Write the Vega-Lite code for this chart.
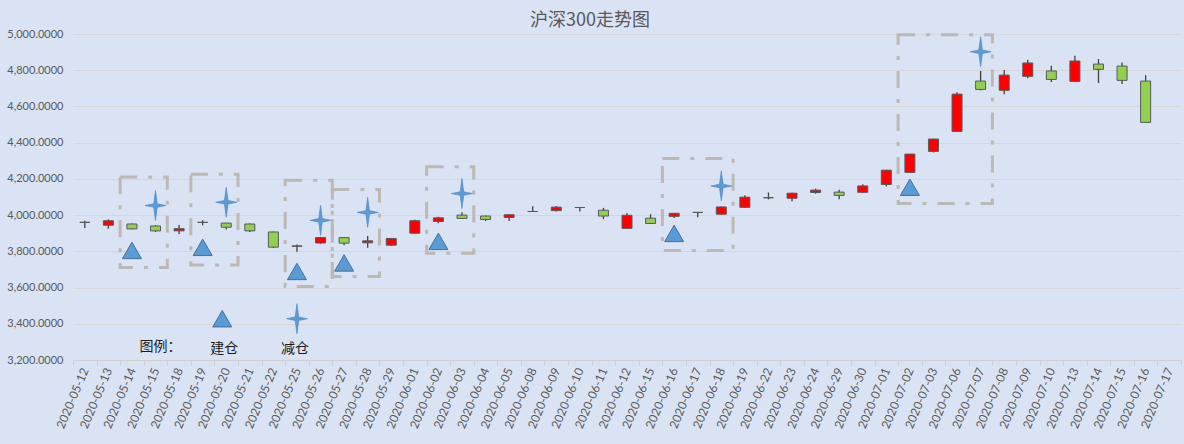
{
  "$schema": "https://vega.github.io/schema/vega-lite/v6.json",
  "background": "#DAE3F3",
  "autosize": {"type": "none"},
  "padding": {"left": 73, "top": 34, "right": 3, "bottom": 84},
  "width": 1108,
  "height": 326,
  "title": {
    "text": "沪深300走势图",
    "font": "Noto Sans CJK SC",
    "fontSize": 18,
    "fontWeight": "normal",
    "color": "#595959",
    "offset": 6,
    "dx": -37,
    "dy": 8
  },
  "datasets": {
    "candles": [
      {"date": "2020-05-12", "open": 3960, "high": 3969, "low": 3929, "close": 3960},
      {"date": "2020-05-13", "open": 3944, "high": 3976, "low": 3925, "close": 3969},
      {"date": "2020-05-14", "open": 3951, "high": 3953, "low": 3922, "close": 3924},
      {"date": "2020-05-15", "open": 3940, "high": 3945, "low": 3907, "close": 3913},
      {"date": "2020-05-18", "open": 3913, "high": 3945, "low": 3896, "close": 3925},
      {"date": "2020-05-19", "open": 3960, "high": 3971, "low": 3944, "close": 3960},
      {"date": "2020-05-20", "open": 3956, "high": 3958, "low": 3920, "close": 3933},
      {"date": "2020-05-21", "open": 3951, "high": 3953, "low": 3907, "close": 3913},
      {"date": "2020-05-22", "open": 3907, "high": 3909, "low": 3818, "close": 3823},
      {"date": "2020-05-25", "open": 3828, "high": 3838, "low": 3798, "close": 3830},
      {"date": "2020-05-26", "open": 3846, "high": 3880, "low": 3842, "close": 3876},
      {"date": "2020-05-27", "open": 3876, "high": 3878, "low": 3834, "close": 3845},
      {"date": "2020-05-28", "open": 3847, "high": 3885, "low": 3820, "close": 3858},
      {"date": "2020-05-29", "open": 3834, "high": 3873, "low": 3829, "close": 3871},
      {"date": "2020-06-01", "open": 3900, "high": 3975, "low": 3898, "close": 3969},
      {"date": "2020-06-02", "open": 3965, "high": 3991, "low": 3955, "close": 3985},
      {"date": "2020-06-03", "open": 4000, "high": 4016, "low": 3980, "close": 3982},
      {"date": "2020-06-04", "open": 3995, "high": 3997, "low": 3967, "close": 3976},
      {"date": "2020-06-05", "open": 3987, "high": 4003, "low": 3967, "close": 4002},
      {"date": "2020-06-08", "open": 4020, "high": 4049, "low": 4017, "close": 4020},
      {"date": "2020-06-09", "open": 4025, "high": 4050, "low": 4020, "close": 4044},
      {"date": "2020-06-10", "open": 4042, "high": 4044, "low": 4020, "close": 4042},
      {"date": "2020-06-11", "open": 4027, "high": 4040, "low": 3978, "close": 3995},
      {"date": "2020-06-12", "open": 3927, "high": 4011, "low": 3923, "close": 3999},
      {"date": "2020-06-15", "open": 3983, "high": 4005, "low": 3953, "close": 3954},
      {"date": "2020-06-16", "open": 3993, "high": 4011, "low": 3984, "close": 4010},
      {"date": "2020-06-17", "open": 4015, "high": 4016, "low": 3988, "close": 4015},
      {"date": "2020-06-18", "open": 4005, "high": 4047, "low": 4003, "close": 4045},
      {"date": "2020-06-19", "open": 4043, "high": 4110, "low": 4041, "close": 4099},
      {"date": "2020-06-22", "open": 4096, "high": 4125, "low": 4087, "close": 4096},
      {"date": "2020-06-23", "open": 4093, "high": 4123, "low": 4076, "close": 4121},
      {"date": "2020-06-24", "open": 4125, "high": 4146, "low": 4118, "close": 4138},
      {"date": "2020-06-29", "open": 4127, "high": 4140, "low": 4087, "close": 4109},
      {"date": "2020-06-30", "open": 4126, "high": 4171, "low": 4124, "close": 4161},
      {"date": "2020-07-01", "open": 4169, "high": 4250, "low": 4158, "close": 4248},
      {"date": "2020-07-02", "open": 4236, "high": 4338, "low": 4234, "close": 4337},
      {"date": "2020-07-03", "open": 4352, "high": 4421, "low": 4346, "close": 4420},
      {"date": "2020-07-06", "open": 4462, "high": 4679, "low": 4460, "close": 4668},
      {"date": "2020-07-07", "open": 4740, "high": 4796, "low": 4689, "close": 4694},
      {"date": "2020-07-08", "open": 4689, "high": 4801, "low": 4668, "close": 4773},
      {"date": "2020-07-09", "open": 4766, "high": 4858, "low": 4755, "close": 4840},
      {"date": "2020-07-10", "open": 4796, "high": 4825, "low": 4735, "close": 4749},
      {"date": "2020-07-13", "open": 4738, "high": 4880, "low": 4736, "close": 4851},
      {"date": "2020-07-14", "open": 4834, "high": 4862, "low": 4729, "close": 4805},
      {"date": "2020-07-15", "open": 4823, "high": 4842, "low": 4724, "close": 4744},
      {"date": "2020-07-16", "open": 4740, "high": 4773, "low": 4510, "close": 4512}
    ],
    "boxes": [
      {"start": "2020-05-14", "end": "2020-05-15", "top": 4211, "bottom": 3711},
      {"start": "2020-05-19", "end": "2020-05-20", "top": 4226, "bottom": 3724},
      {"start": "2020-05-25", "end": "2020-05-26", "top": 4193, "bottom": 3606},
      {"start": "2020-05-27", "end": "2020-05-28", "top": 4141, "bottom": 3661},
      {"start": "2020-06-02", "end": "2020-06-03", "top": 4267, "bottom": 3790},
      {"start": "2020-06-16", "end": "2020-06-18", "top": 4313, "bottom": 3805},
      {"start": "2020-07-02", "end": "2020-07-07", "top": 4996, "bottom": 4064}
    ],
    "signals": [
      {"date": "2020-05-14", "value": 3805, "kind": "建仓"},
      {"date": "2020-05-19", "value": 3822, "kind": "建仓"},
      {"date": "2020-05-25", "value": 3689, "kind": "建仓"},
      {"date": "2020-05-27", "value": 3736, "kind": "建仓"},
      {"date": "2020-06-02", "value": 3855, "kind": "建仓"},
      {"date": "2020-06-16", "value": 3899, "kind": "建仓"},
      {"date": "2020-07-02", "value": 4154, "kind": "建仓"},
      {"date": "2020-05-15", "value": 4053, "kind": "减仓"},
      {"date": "2020-05-20", "value": 4071, "kind": "减仓"},
      {"date": "2020-05-26", "value": 3971, "kind": "减仓"},
      {"date": "2020-05-28", "value": 4015, "kind": "减仓"},
      {"date": "2020-06-03", "value": 4119, "kind": "减仓"},
      {"date": "2020-06-18", "value": 4161, "kind": "减仓"},
      {"date": "2020-07-07", "value": 4902, "kind": "减仓"},
      {"date": "2020-05-25", "value": 3428, "kind": "减仓"}
    ],
    "legendMark": [
      {"date": "2020-05-20", "value": 3428, "kind": "建仓"}
    ],
    "legendText": [
      {"date": "2020-05-15", "value": 3273, "label": "图例："},
      {"date": "2020-05-20", "value": 3262, "label": "建仓"},
      {"date": "2020-05-25", "value": 3262, "label": "减仓"}
    ]
  },
  "encoding": {
    "x": {
      "field": "date",
      "type": "ordinal",
      "title": null,
      "scale": {
        "type": "band",
        "paddingInner": 0,
        "paddingOuter": 0,
        "domain": [
          "2020-05-12", "2020-05-13", "2020-05-14", "2020-05-15", "2020-05-18", "2020-05-19",
          "2020-05-20", "2020-05-21", "2020-05-22", "2020-05-25", "2020-05-26", "2020-05-27",
          "2020-05-28", "2020-05-29", "2020-06-01", "2020-06-02", "2020-06-03", "2020-06-04",
          "2020-06-05", "2020-06-08", "2020-06-09", "2020-06-10", "2020-06-11", "2020-06-12",
          "2020-06-15", "2020-06-16", "2020-06-17", "2020-06-18", "2020-06-19", "2020-06-22",
          "2020-06-23", "2020-06-24", "2020-06-29", "2020-06-30", "2020-07-01", "2020-07-02",
          "2020-07-03", "2020-07-06", "2020-07-07", "2020-07-08", "2020-07-09", "2020-07-10",
          "2020-07-13", "2020-07-14", "2020-07-15", "2020-07-16", "2020-07-17"
        ]
      },
      "axis": {
        "labelAngle": -67,
        "labelFontSize": 12,
        "labelFont": "Lato",
        "labelColor": "#595959",
        "labelPadding": 3,
        "labelOverlap": false,
        "domainColor": "#D0D0D0",
        "tickColor": "#D0D0D0",
        "tickBand": "extent",
        "tickSize": 5,
        "grid": false
      }
    }
  },
  "layer": [
    {
      "data": {"name": "boxes"},
      "mark": {
        "type": "rect",
        "fill": null,
        "stroke": "#BDB8B3",
        "strokeWidth": 3,
        "strokeDash": [17, 11, 4, 11]
      },
      "encoding": {
        "x": {"field": "start", "type": "ordinal", "bandPosition": 0},
        "x2": {"field": "end", "bandPosition": 1},
        "y": {
          "field": "top",
          "type": "quantitative",
          "title": null,
          "scale": {"domain": [3200, 5000], "nice": false, "zero": false},
          "axis": {
            "values": [3200, 3400, 3600, 3800, 4000, 4200, 4400, 4600, 4800, 5000],
            "tickCount": 10,
            "format": ",.4f",
            "labelFont": "Lato",
            "labelFontSize": 11,
            "labelColor": "#595959",
            "labelPadding": 10,
            "labelOverlap": false,
            "labelFlush": false,
            "domain": false,
            "ticks": false,
            "grid": true,
            "gridColor": "#D6D6D6"
          }
        },
        "y2": {"field": "bottom"}
      }
    },
    {
      "data": {"name": "candles"},
      "mark": {"type": "rule", "color": "#404040", "strokeWidth": 1.3},
      "encoding": {
        "y": {"field": "low", "type": "quantitative"},
        "y2": {"field": "high"}
      }
    },
    {
      "data": {"name": "candles"},
      "mark": {"type": "bar", "size": 10, "stroke": "#595959", "strokeWidth": 1},
      "encoding": {
        "y": {"field": "open", "type": "quantitative"},
        "y2": {"field": "close"},
        "fill": {
          "condition": {"test": "datum.close >= datum.open", "value": "#FF0000"},
          "value": "#92D050"
        }
      }
    },
    {
      "data": {"name": "signals"},
      "transform": [{"filter": "datum.kind == '建仓'"}],
      "mark": {
        "type": "point",
        "shape": "triangle-up",
        "size": 360,
        "filled": true,
        "fill": "#5B9BD5",
        "stroke": "#41719C",
        "strokeWidth": 1,
        "opacity": 1
      },
      "encoding": {
        "y": {"field": "value", "type": "quantitative"}
      }
    },
    {
      "data": {"name": "legendMark"},
      "mark": {
        "type": "point",
        "shape": "triangle-up",
        "size": 360,
        "filled": true,
        "fill": "#5B9BD5",
        "stroke": "#41719C",
        "strokeWidth": 1,
        "opacity": 1,
        "xOffset": -4
      },
      "encoding": {
        "y": {"field": "value", "type": "quantitative"}
      }
    },
    {
      "data": {"name": "signals"},
      "transform": [{"filter": "datum.kind == '减仓'"}],
      "mark": {
        "type": "point",
        "shape": "M0,-1L0.12,-0.12L0.7,0L0.12,0.12L0,1L-0.12,0.12L-0.7,0L-0.12,-0.12Z",
        "size": 900,
        "filled": true,
        "fill": "#5B9BD5",
        "stroke": "#4A86C0",
        "strokeWidth": 0.6,
        "opacity": 1
      },
      "encoding": {
        "y": {"field": "value", "type": "quantitative"}
      }
    },
    {
      "data": {"name": "legendText"},
      "transform": [{"filter": "datum.label == '图例：'"}],
      "mark": {
        "type": "text",
        "font": "Noto Sans CJK SC",
        "fontSize": 14,
        "color": "#1A1A1A",
        "align": "center",
        "baseline": "middle",
        "dx": 5
      },
      "encoding": {
        "y": {"field": "value", "type": "quantitative"},
        "text": {"field": "label"}
      }
    },
    {
      "data": {"name": "legendText"},
      "transform": [{"filter": "datum.label != '图例：'"}],
      "mark": {
        "type": "text",
        "font": "Noto Sans CJK SC",
        "fontSize": 14,
        "color": "#1A1A1A",
        "align": "center",
        "baseline": "middle",
        "dx": -2
      },
      "encoding": {
        "y": {"field": "value", "type": "quantitative"},
        "text": {"field": "label"}
      }
    }
  ],
  "config": {
    "view": {"stroke": null},
    "font": "Lato"
  }
}
